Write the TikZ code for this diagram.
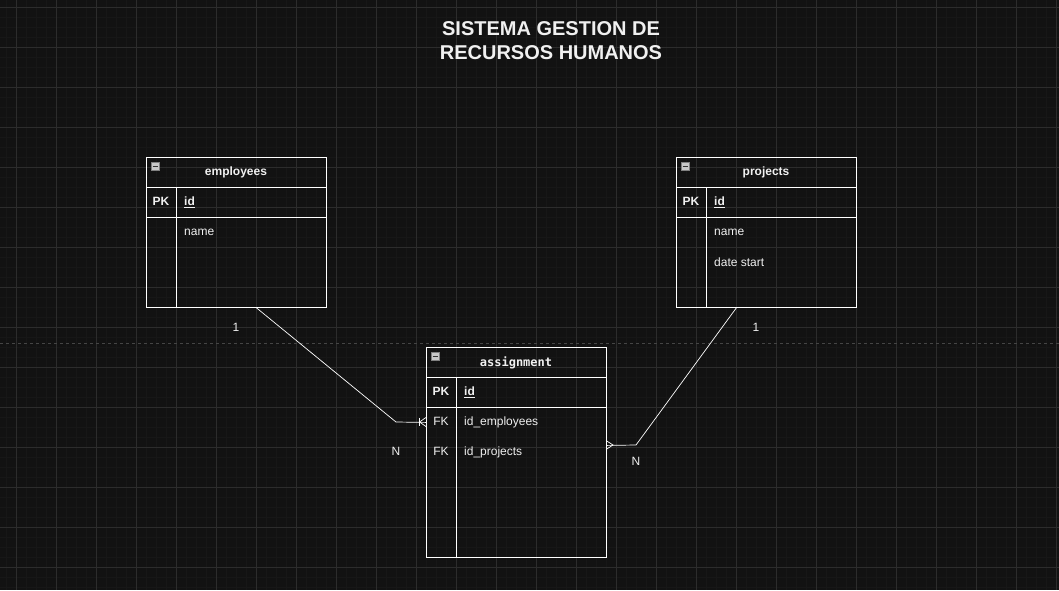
\documentclass[tikz,border=0pt]{standalone}
\usepackage{fontspec}
\setmainfont{Liberation Sans}
\newfontfamily\monofnt{DejaVu Sans Mono}
\definecolor{bgc}{HTML}{121212}
\definecolor{minorc}{HTML}{171717}
\definecolor{majorc}{HTML}{2C2C2C}
\definecolor{txtc}{HTML}{F0F0F0}
\definecolor{iconc}{HTML}{C8C8C8}
\tikzset{
  tablebox/.style={draw=white, line width=0.8pt, minimum width=180pt, inner sep=0pt, anchor=north west},
  divline/.style={draw=white, line width=0.8pt},
  hdr/.style={text=txtc, font=\fontsize{12}{14}\selectfont\bfseries, inner sep=0pt, yshift=-1pt},
  hdrmono/.style={text=txtc, font=\fontsize{12}{14}\selectfont\monofnt\bfseries, inner sep=0pt, yshift=-1pt},
  keytxt/.style={text=txtc, font=\fontsize{12}{14}\selectfont\bfseries, inner sep=0pt, yshift=-0.5pt},
  fktxt/.style={text=txtc, font=\fontsize{12}{14}\selectfont, inner sep=0pt, yshift=-0.5pt},
  fieldtxt/.style={text=txtc, font=\fontsize{12}{14}\selectfont, inner sep=0pt, anchor=west, yshift=-1pt},
  idtxt/.style={text=txtc, font=\fontsize{12}{14}\selectfont\bfseries, inner sep=0pt, anchor=west, yshift=-1pt},
  cardtxt/.style={text=txtc, font=\fontsize{12}{14}\selectfont, inner sep=0pt},
  conn/.style={draw=white, line width=0.7pt},
  icon/.style={draw=gray, fill=iconc, minimum size=8pt, inner sep=0pt, line width=0.5pt},
  titletxt/.style={text=txtc, font=\fontsize{20}{24}\selectfont\bfseries, align=center, inner sep=0pt}
}
\begin{document}
\begin{tikzpicture}[x=1pt,y=-1pt]
\useasboundingbox (0,0) rectangle (1059,590);
\fill[bgc] (0,0) rectangle (1059,590);
% minor grid
\foreach \x in {6,16,...,1056} \draw[minorc, line width=0.6pt] (\x,0) -- (\x,590);
\foreach \y in {7,17,...,587} \draw[minorc, line width=0.6pt] (0,\y) -- (1059,\y);
% major grid
\foreach \x in {16,56,...,1056} \draw[majorc, line width=0.8pt] (\x,0) -- (\x,590);
\foreach \y in {7,47,...,587} \draw[majorc, line width=0.8pt] (0,\y) -- (1059,\y);
% dashed page line
\draw[majorc!70!gray, line width=0.8pt, dash pattern=on 3pt off 3pt] (0,343) -- (1059,343);

% title
\node[titletxt] (title) at (551,40.5) {SISTEMA GESTION DE\\RECURSOS HUMANOS};

% employees
\node[tablebox, minimum height=150pt] (emp) at (146,157) {};
\draw[divline] (146,187) -- (326,187);
\draw[divline] (146,217) -- (326,217);
\draw[divline] (176,187) -- (176,307);
\node[icon] (empicon) at (155,166) {};
\draw[black!80, line width=0.8pt] (152.5,166) -- (157.5,166);
\node[hdr] (emptitle) at (236,171) {employees};
\node[keytxt] (emppk) at (161,201) {PK};
\node[idtxt] (empid) at (184,201) {\underline{id}};
\node[fieldtxt] (empname) at (184,231) {name};

% projects
\node[tablebox, minimum height=150pt] (proj) at (676,157) {};
\draw[divline] (676,187) -- (856,187);
\draw[divline] (676,217) -- (856,217);
\draw[divline] (706,187) -- (706,307);
\node[icon] (projicon) at (685,166) {};
\draw[black!80, line width=0.8pt] (682.5,166) -- (687.5,166);
\node[hdr] (projtitle) at (766,171) {projects};
\node[keytxt] (projpk) at (691,201) {PK};
\node[idtxt] (projid) at (714,201) {\underline{id}};
\node[fieldtxt] (projname) at (714,231) {name};
\node[fieldtxt] (projdate) at (714,261) {date start};

% assignment
\node[tablebox, minimum height=210pt] (asg) at (426,347) {};
\draw[divline] (426,377) -- (606,377);
\draw[divline] (426,407) -- (606,407);
\draw[divline] (456,377) -- (456,557);
\node[icon] (asgicon) at (435,356) {};
\draw[black!80, line width=0.8pt] (432.5,356) -- (437.5,356);
\node[hdrmono] (asgtitle) at (516,362) {assignment};
\node[keytxt] (asgpk) at (441,391) {PK};
\node[idtxt] (asgid) at (464,391) {\underline{id}};
\node[fktxt] (asgfk1) at (441,421) {FK};
\node[fieldtxt] (asgemp) at (464,421) {id\_employees};
\node[fktxt] (asgfk2) at (441,451) {FK};
\node[fieldtxt] (asgproj) at (464,451) {id\_projects};

% connectors
\coordinate (bendL) at (396,422);
\coordinate (bendR) at (636,445);
\draw[conn] ([xshift=20pt]emp.south) -- (bendL) -- ([yshift=30pt]asg.west);
\draw[conn] (419.5,418) -- (419.5,426);
\draw[conn] (426,417.5) -- (419.5,422) -- (426,426.5);
\draw[conn] ([xshift=-30pt]proj.south) -- (bendR) -- ([yshift=7pt]asg.east);
\draw[conn] (606,440.5) -- (613,445) -- (606,449.5);

% cardinalities
\node[cardtxt] (c1) at (236,327) {1};
\node[cardtxt] (c2) at (396,451) {N};
\node[cardtxt] (c3) at (756,327) {1};
\node[cardtxt] (c4) at (636,461) {N};
\end{tikzpicture}
\end{document}
